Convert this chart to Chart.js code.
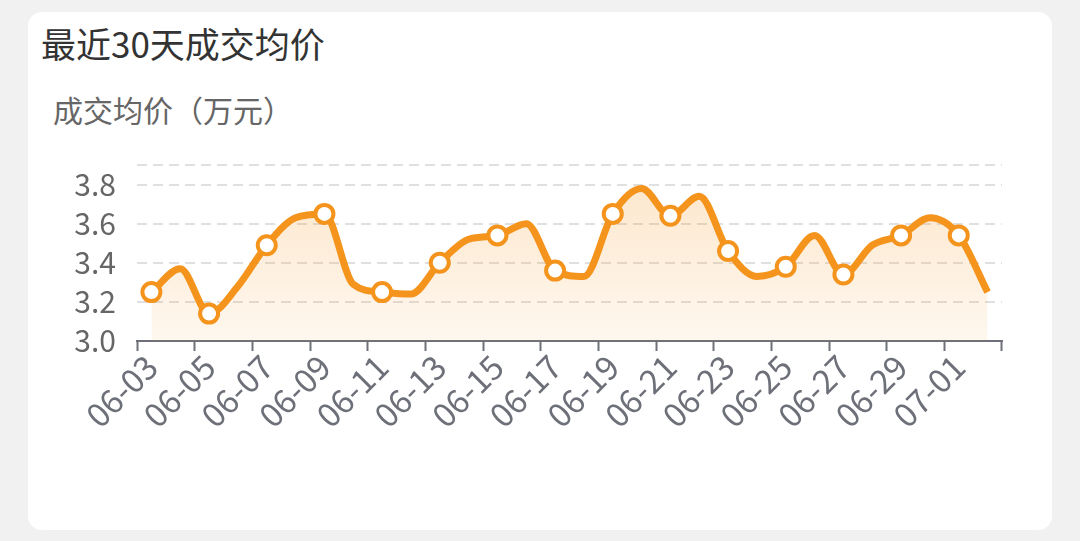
<!DOCTYPE html>
<html>
<head>
<meta charset="utf-8">
<script src="https://cdn.jsdelivr.net/npm/chart.js@4/dist/chart.umd.min.js"></script>
<style>
  html, body { margin: 0; padding: 0; }
  body { width: 1080px; height: 541px; background: #f1f1f1; position: relative; overflow: hidden;
         font-family: "Noto Sans CJK SC", "Noto Sans", sans-serif; }
  .card { position: absolute; left: 28px; top: 12px; width: 1024px; height: 518px;
          background: #fff; border-radius: 14px; }
  .title { position: absolute; left: 41px; top: 21px; font-size: 35px; color: #333; line-height: 44px; }
  .unit { position: absolute; left: 53px; top: 90px; font-size: 30px; color: #666; line-height: 38px; }
  #chart { position: absolute; left: 0; top: 0; }
</style>
</head>
<body>
<div class="card"></div>
<div class="title">最近30天成交均价</div>
<div class="unit">成交均价（万元）</div>
<canvas id="chart" width="1080" height="541"></canvas>
<script>
// dates for the last 30 days
const days = ['06-03', '06-04', '06-05', '06-06', '06-07', '06-08', '06-09', '06-10', '06-11', '06-12',
  '06-13', '06-14', '06-15', '06-16', '06-17', '06-18', '06-19', '06-20', '06-21', '06-22',
  '06-23', '06-24', '06-25', '06-26', '06-27', '06-28', '06-29', '06-30', '07-01', '07-02'];

// average deal price, 万元
const avgPrice = [3.25, 3.37, 3.14, 3.28, 3.49, 3.63, 3.65, 3.29, 3.25, 3.24,
  3.40, 3.52, 3.54, 3.60, 3.36, 3.33, 3.65, 3.78, 3.64, 3.74,
  3.46, 3.33, 3.38, 3.54, 3.34, 3.49, 3.54, 3.63, 3.54, 3.25];

// y axis: labelled ticks plus an unlabelled top line
const yTicks = [3.0, 3.2, 3.4, 3.6, 3.8];
const yMin = 3.0;
const yMax = 3.9;

const orange = '#f5941c';
const axisGray = '#6e7079';
const font = '"Noto Sans CJK SC", "Noto Sans", sans-serif';

const fillGradient = (context) => {
  const { ctx, chartArea } = context.chart;
  if (!chartArea) return 'rgba(245,148,28,0.15)';
  const g = ctx.createLinearGradient(0, chartArea.top, 0, chartArea.bottom);
  g.addColorStop(0, 'rgba(245,148,28,0.24)');
  g.addColorStop(1, 'rgba(245,148,28,0.07)');
  return g;
};

new Chart(document.getElementById('chart'), {
  type: 'line',
  data: {
    labels: days,
    datasets: [
      {
        label: '成交均价',
        data: avgPrice,
        borderColor: orange,
        borderWidth: 7,
        cubicInterpolationMode: 'monotone',
        fill: 'origin',
        backgroundColor: fillGradient,
        pointRadius: (c) => (c.dataIndex % 2 === 0 ? 9 : 0),
        pointBackgroundColor: '#fff',
        pointBorderColor: orange,
        pointBorderWidth: 4,
      },
    ],
  },
  options: {
    responsive: false,
    animation: false,
    layout: { padding: { left: 0, right: 78, top: 165, bottom: 0 } },
    plugins: { legend: { display: false }, tooltip: { enabled: false } },
    scales: {
      x: {
        offset: true,
        grid: {
          offset: true,
          drawOnChartArea: false,
          tickLength: 10,
          tickWidth: 2,
          tickColor: (c) => ((c.index ?? 0) % 2 === 0 ? axisGray : 'rgba(0,0,0,0)'),
        },
        border: { display: true, color: axisGray, width: 2 },
        ticks: {
          autoSkip: false,
          minRotation: 45,
          maxRotation: 45,
          padding: -4,
          color: axisGray,
          font: { family: font, size: 33 },
          callback: (v, i) => (i % 2 === 0 ? days[i] : ''),
        },
        afterFit: (scale) => { scale.height = 200; },
      },
      y: {
        min: yMin,
        max: yMax,
        border: { display: false, dash: [10, 6] },
        grid: {
          drawTicks: false,
          lineWidth: 2,
          color: (c) => (c.tick && c.tick.value === yMin ? 'rgba(0,0,0,0)' : '#e0e0e0'),
        },
        ticks: {
          autoSkip: false,
          padding: 21,
          color: '#666',
          font: { family: font, size: 30 },
          callback: (v) => (yTicks.includes(v) ? v.toFixed(1) : ''),
        },
        afterBuildTicks: (scale) => {
          scale.ticks = yTicks.concat([yMax]).map((v) => ({ value: v }));
        },
        afterFit: (scale) => { scale.width = 137; },
      },
    },
  },
});
</script>
</body>
</html>
